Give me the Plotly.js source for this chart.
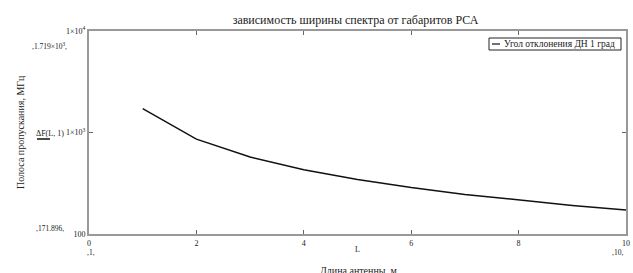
<!DOCTYPE html>
<html>
<head>
<meta charset="utf-8">
<script src="https://cdn.plot.ly/plotly-3.0.1.min.js"></script>
<style>html,body{margin:0;padding:0;background:#fff;}#chart{width:633px;height:273px;}</style>
</head>
<body>
<div id="chart"></div>
<script>
var antennaLength = [1, 2, 3, 4, 5, 6, 7, 8, 9, 10];
var bandwidth = [1719, 859.5, 573, 429.7, 343.8, 286.5, 245.6, 214.9, 191.0, 171.9];
var xTickVals = [0, 2, 4, 6, 8, 10];
var yTickVals = [100, 1000, 10000];
var yTickText = ["100", "1×10<sup>3</sup>", "1×10<sup>4</sup>"];
var seriesName = 'Угол отклонения ДН 1 град';

var L = 89, R = 7, T = 31, B = 39, W = 633, H = 273;
var pw = W - L - R, ph = H - T - B;
function px(x){ return (x - L) / pw; }
function py(y){ return (H - B - y) / ph; }
var serif = "Liberation Serif";

var trace = {
  x: antennaLength, y: bandwidth, type: 'scatter', mode: 'lines',
  name: seriesName, showlegend: false,
  line: {color: '#111', width: 1.5}
};

function ann(text, x, y, size, opts){
  var a = {text: text, x: px(x), y: py(y), xref: 'paper', yref: 'paper', showarrow: false,
    font: {family: serif, size: size, color: '#222'}, xanchor: 'center', yanchor: 'middle'};
  for (var k in (opts||{})) a[k] = opts[k];
  return a;
}

var layout = {
  width: W, height: H,
  margin: {l: L, r: R, t: T, b: B, pad: 0},
  paper_bgcolor: '#fff', plot_bgcolor: '#fff',
  font: {family: serif, color: '#222'},
  title: {text: 'зависимость ширины спектра от габаритов РСА', font: {family: serif, size: 12, color: '#222'},
          x: px(355.5), xref: 'paper', xanchor: 'center', y: 1 - 20/H, yanchor: 'middle'},
  showlegend: false,
  xaxis: {range: [0, 10], tickvals: xTickVals, ticks: 'inside', ticklen: 4, tickcolor: '#666',
          showline: true, linecolor: '#999', linewidth: 2, mirror: 'ticks', showgrid: false, zeroline: false,
          tickfont: {family: serif, size: 8, color: '#222'}, fixedrange: true},
  yaxis: {type: 'log', range: [2, 4], tickvals: yTickVals, ticktext: yTickText, ticks: 'inside', ticklen: 4,
          tickcolor: '#666', showline: true, linecolor: '#999', linewidth: 2, mirror: 'ticks', showgrid: false,
          zeroline: false, tickfont: {family: serif, size: 8, color: '#222'}, fixedrange: true},
  shapes: [
    {type: 'rect', xref: 'paper', yref: 'paper', x0: px(489), x1: px(621), y0: py(38), y1: py(50),
     line: {color: '#222', width: 1}, fillcolor: '#fff', layer: 'above'},
    {type: 'line', xref: 'paper', yref: 'paper', x0: px(492), x1: px(500), y0: py(44), y1: py(44),
     line: {color: '#111', width: 1.2}, layer: 'above'},
    {type: 'line', xref: 'paper', yref: 'paper', x0: px(37), x1: px(50), y0: py(139), y1: py(139),
     line: {color: '#111', width: 1.5}}
  ],
  annotations: [
    ann(seriesName, 502, 44, 9.5, {xanchor: 'left'}),
    ann('Полоса пропускания, МГц', 20, 132, 10, {textangle: -90}),
    ann('ΔF(L, 1)', 50, 133, 8),
    ann(',1.719×10<sup>3</sup>,', 50, 46, 7.5),
    ann(',171.896,', 50, 228, 7.5),
    ann(',1,', 91, 252, 7.5),
    ann(',10,', 617, 252, 7.5),
    ann('L', 357, 250, 8),
    ann('Длина антенны, м', 358, 270, 10)
  ]
};

Plotly.newPlot('chart', [trace], layout, {displayModeBar: false, staticPlot: true});
</script>
</body>
</html>
